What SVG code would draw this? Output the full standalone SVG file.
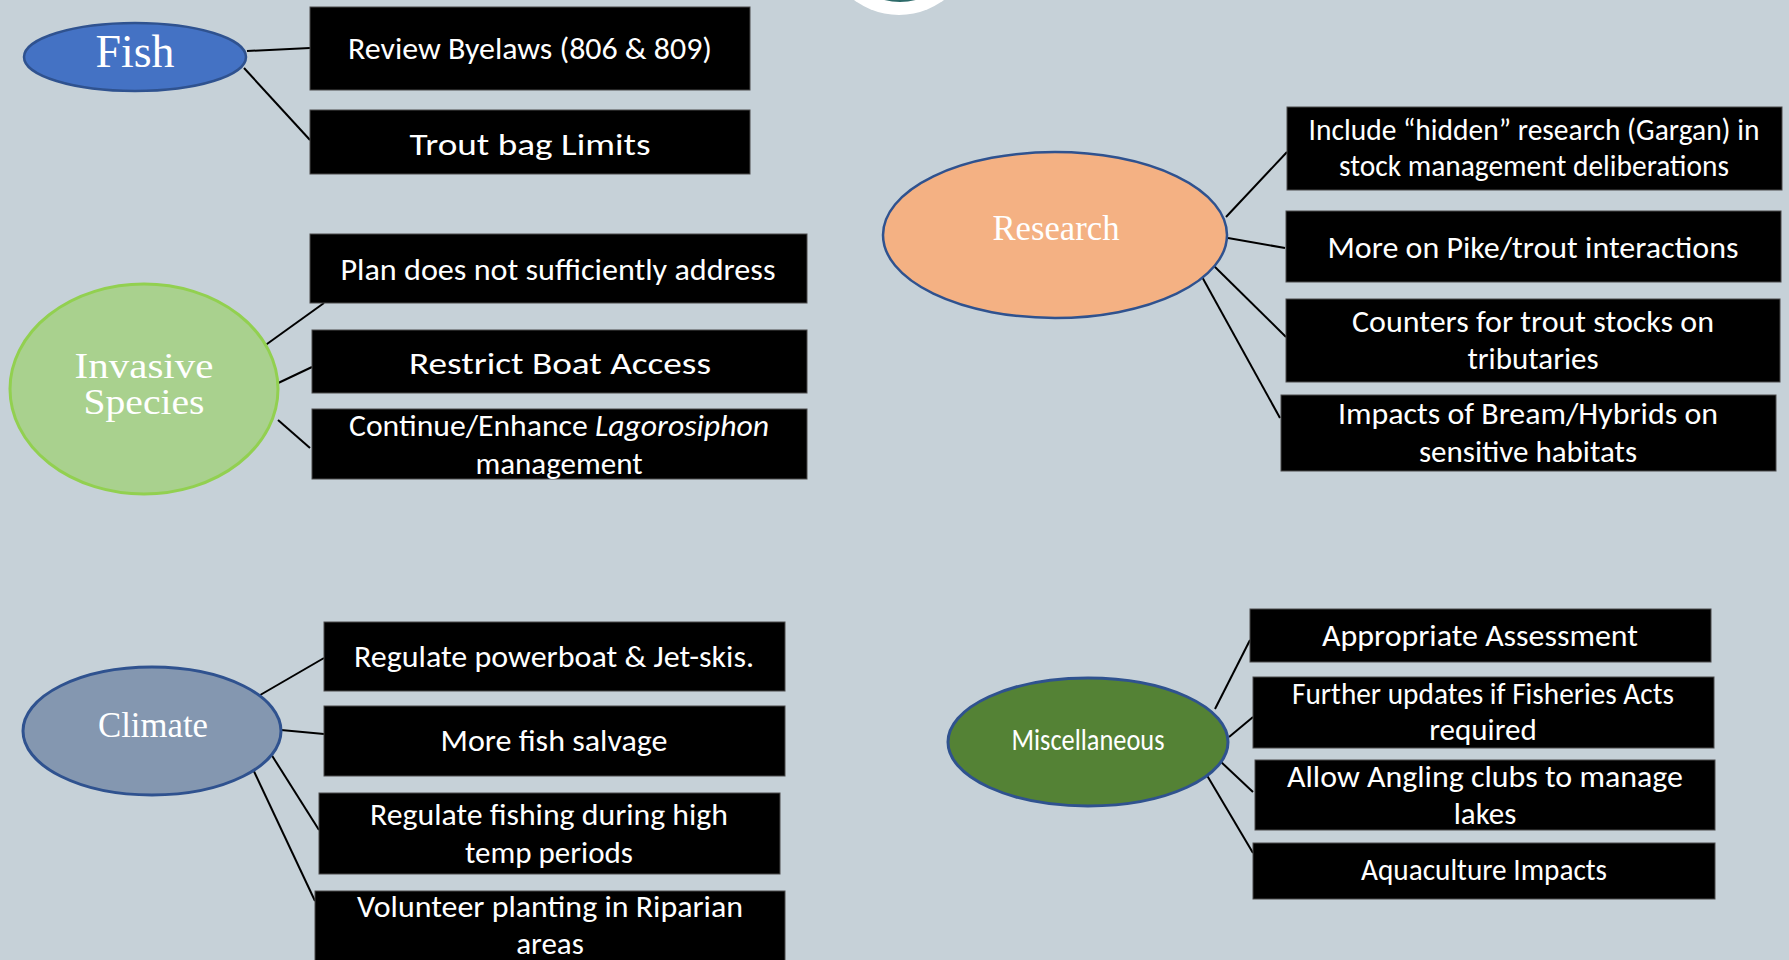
<svg xmlns="http://www.w3.org/2000/svg" width="1789" height="960" viewBox="0 0 1789 960">
<style>
.box{fill:#000;stroke:#4a4a4a;stroke-width:1}
.bt{font-family:Carlito,Lato,"Liberation Sans",sans-serif;fill:#fff;text-anchor:middle;font-size:31px}
.st{font-family:"Liberation Serif",serif;fill:#fff;text-anchor:middle}
.conn line{stroke:#000;stroke-width:2}
</style>
<rect width="1789" height="960" fill="#C6D1D8"/>
<g id="logo">
<circle cx="899" cy="-60" r="75" fill="#fff"/>
<circle cx="900" cy="-60" r="62" fill="#2E6B6A"/>
</g>
<g class="conn" id="connectors">
<line x1="247" y1="51" x2="310" y2="48"/>
<line x1="244" y1="68" x2="310" y2="140"/>
<line x1="260" y1="349" x2="324" y2="303"/>
<line x1="274" y1="385" x2="312" y2="367"/>
<line x1="278" y1="420" x2="310" y2="448"/>
<line x1="1226" y1="217" x2="1287" y2="152"/>
<line x1="1228" y1="238" x2="1285" y2="248"/>
<line x1="1213" y1="265" x2="1286" y2="337"/>
<line x1="1201" y1="275" x2="1280" y2="418"/>
<line x1="255" y1="698" x2="324" y2="658"/>
<line x1="281" y1="730" x2="324" y2="734"/>
<line x1="271" y1="754" x2="319" y2="830"/>
<line x1="251" y1="765" x2="315" y2="901"/>
<line x1="1215" y1="709" x2="1250" y2="640"/>
<line x1="1229" y1="737" x2="1253" y2="717"/>
<line x1="1220" y1="761" x2="1253" y2="792"/>
<line x1="1205" y1="772" x2="1253" y2="853"/>
</g>
<g id="fish">
<ellipse cx="135" cy="57" rx="111" ry="34" fill="#4472C4" stroke="#2F528F" stroke-width="2.5"/>
<text class="st" x="135" y="67" font-size="46" textLength="79" lengthAdjust="spacingAndGlyphs">Fish</text>
</g>
<g id="fish-byelaws">
<rect class="box" x="310" y="7" width="440" height="83"/>
<text class="bt" x="530" y="59" textLength="364" lengthAdjust="spacingAndGlyphs">Review Byelaws (806 &amp; 809)</text>
</g>
<g id="fish-trout">
<rect class="box" x="310" y="110" width="440" height="64"/>
<text class="bt" x="530" y="155" font-size="37" textLength="241" lengthAdjust="spacingAndGlyphs">Trout bag Limits</text>
</g>
<g id="invasive">
<ellipse cx="144" cy="389" rx="134" ry="105" fill="#A9D18E" stroke="#92D050" stroke-width="3"/>
<text class="st" x="144" y="378" font-size="35" textLength="139" lengthAdjust="spacingAndGlyphs">Invasive</text>
<text class="st" x="144" y="414" font-size="35" textLength="121" lengthAdjust="spacingAndGlyphs">Species</text>
</g>
<g id="inv-plan">
<rect class="box" x="310" y="234" width="497" height="69"/>
<text class="bt" x="558" y="280" textLength="435" lengthAdjust="spacingAndGlyphs">Plan does not sufficiently address</text>
</g>
<g id="inv-boat">
<rect class="box" x="312" y="330" width="495" height="63"/>
<text class="bt" x="560" y="374" font-size="36" textLength="302" lengthAdjust="spacingAndGlyphs">Restrict Boat Access</text>
</g>
<g id="inv-lagarosiphon">
<rect class="box" x="312" y="409" width="495" height="70"/>
<text class="bt" x="559" y="436" textLength="420" lengthAdjust="spacingAndGlyphs">Continue/Enhance <tspan font-style="italic">Lagorosiphon</tspan></text>
<text class="bt" x="559" y="474">management</text>
</g>
<g id="research">
<ellipse cx="1055" cy="235" rx="172" ry="83" fill="#F4B183" stroke="#2F528F" stroke-width="2.5"/>
<text class="st" x="1056" y="240" font-size="36" textLength="127" lengthAdjust="spacingAndGlyphs">Research</text>
</g>
<g id="res-hidden">
<rect class="box" x="1287" y="107" width="495" height="83"/>
<text class="bt" x="1534" y="140" textLength="451" lengthAdjust="spacingAndGlyphs">Include “hidden” research (Gargan) in</text>
<text class="bt" x="1534" y="176" textLength="390" lengthAdjust="spacingAndGlyphs">stock management deliberations</text>
</g>
<g id="res-pike">
<rect class="box" x="1286" y="211" width="495" height="71"/>
<text class="bt" x="1533" y="258" textLength="411" lengthAdjust="spacingAndGlyphs">More on Pike/trout interactions</text>
</g>
<g id="res-counters">
<rect class="box" x="1286" y="299" width="494" height="83"/>
<text class="bt" x="1533" y="332" textLength="362" lengthAdjust="spacingAndGlyphs">Counters for trout stocks on</text>
<text class="bt" x="1533" y="369">tributaries</text>
</g>
<g id="res-bream">
<rect class="box" x="1281" y="395" width="495" height="76"/>
<text class="bt" x="1528" y="424" textLength="380" lengthAdjust="spacingAndGlyphs">Impacts of Bream/Hybrids on</text>
<text class="bt" x="1528" y="462">sensitive habitats</text>
</g>
<g id="climate">
<ellipse cx="152" cy="731" rx="129" ry="64" fill="#8497B0" stroke="#2F528F" stroke-width="3"/>
<text class="st" x="153" y="737" font-size="35" textLength="110" lengthAdjust="spacingAndGlyphs">Climate</text>
</g>
<g id="cli-powerboat">
<rect class="box" x="324" y="622" width="461" height="69"/>
<text class="bt" x="554" y="667" textLength="400" lengthAdjust="spacingAndGlyphs">Regulate powerboat &amp; Jet-skis.</text>
</g>
<g id="cli-salvage">
<rect class="box" x="324" y="706" width="461" height="70"/>
<text class="bt" x="554" y="751" textLength="227" lengthAdjust="spacingAndGlyphs">More fish salvage</text>
</g>
<g id="cli-fishing">
<rect class="box" x="319" y="793" width="461" height="81"/>
<text class="bt" x="549" y="825" textLength="358" lengthAdjust="spacingAndGlyphs">Regulate fishing during high</text>
<text class="bt" x="549" y="863">temp periods</text>
</g>
<g id="cli-planting">
<rect class="box" x="315" y="891" width="470" height="80"/>
<text class="bt" x="550" y="917" textLength="386" lengthAdjust="spacingAndGlyphs">Volunteer planting in Riparian</text>
<text class="bt" x="550" y="954">areas</text>
</g>
<g id="misc">
<ellipse cx="1088" cy="742" rx="140" ry="64" fill="#548235" stroke="#2F528F" stroke-width="3"/>
<text class="bt" x="1088" y="750" font-size="25" textLength="153" lengthAdjust="spacingAndGlyphs">Miscellaneous</text>
</g>
<g id="misc-assessment">
<rect class="box" x="1250" y="609" width="461" height="53"/>
<text class="bt" x="1480" y="646" textLength="316" lengthAdjust="spacingAndGlyphs">Appropriate Assessment</text>
</g>
<g id="misc-acts">
<rect class="box" x="1253" y="677" width="461" height="71"/>
<text class="bt" x="1483" y="704" textLength="382" lengthAdjust="spacingAndGlyphs">Further updates if Fisheries Acts</text>
<text class="bt" x="1483" y="740">required</text>
</g>
<g id="misc-angling">
<rect class="box" x="1255" y="760" width="460" height="70"/>
<text class="bt" x="1485" y="787" textLength="396" lengthAdjust="spacingAndGlyphs">Allow Angling clubs to manage</text>
<text class="bt" x="1485" y="824">lakes</text>
</g>
<g id="misc-aquaculture">
<rect class="box" x="1253" y="843" width="462" height="56"/>
<text class="bt" x="1484" y="880" textLength="246" lengthAdjust="spacingAndGlyphs">Aquaculture Impacts</text>
</g>
</svg>
